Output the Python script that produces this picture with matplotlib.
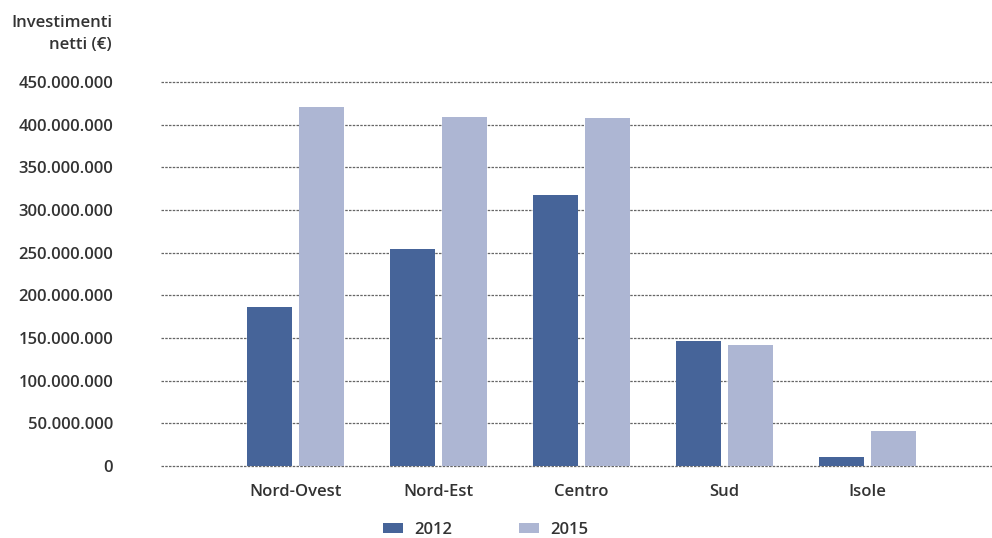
import numpy as np
import matplotlib
matplotlib.use("Agg")
import matplotlib.pyplot as plt
from matplotlib.ticker import FuncFormatter

# data
regioni = ["Nord-Ovest", "Nord-Est", "Centro", "Sud", "Isole"]
inv_2012 = [186e6, 254e6, 317.5e6, 146.8e6, 10.9e6]
inv_2015 = [420.3e6, 408.6e6, 407.5e6, 142e6, 41.4e6]
anni = ["2012", "2015"]
y_ticks = np.arange(0, 450e6 + 1, 50e6)

col_2012 = "#466499"
col_2015 = "#adb6d3"
txt = "#333333"

plt.rcParams["font.family"] = ["Open Sans", "DejaVu Sans"]
plt.rcParams["font.weight"] = "semibold"

fig = plt.figure(figsize=(9.92, 5.38), dpi=100)
ax = fig.add_axes([161 / 992, 68 / 538, 1 - 161 / 992, 400 / 538])

x = np.arange(len(regioni))
w = 0.315
ax.bar(x - 0.182, inv_2012, width=w, color=col_2012, label=anni[0], zorder=2)
ax.bar(x + 0.182, inv_2015, width=w, color=col_2015, label=anni[1], zorder=2)

ax.set_xlim(-0.94, 4.87)
ax.set_ylim(-4.7e6, 464e6)
ax.set_yticks(y_ticks)
ax.yaxis.set_major_formatter(FuncFormatter(lambda v, p: f"{int(v):,}".replace(",", ".")))
ax.set_xticks(x)
ax.set_xticklabels(regioni)

ax.grid(axis="y", linestyle=(0, (2, 1)), linewidth=0.9, color="#666666", zorder=1)
ax.set_axisbelow(True)
for s in ax.spines.values():
    s.set_visible(False)
ax.tick_params(axis="both", length=0, labelsize=12, labelcolor=txt)
ax.tick_params(axis="y", pad=34.5)
ax.tick_params(axis="x", pad=10)

fig.text(112 / 992, 1 - 34 / 538, "Investimenti\nnetti (€)", ha="right", va="center",
         fontsize=12, color=txt, linespacing=1.45)

leg = fig.legend(loc="center", bbox_to_anchor=(485.5 / 992, 8 / 538), ncol=2, frameon=False,
                 fontsize=12, handlelength=1.2, handleheight=0.48, handletextpad=0.66,
                 columnspacing=4.0, labelcolor=txt)

fig.savefig("out.png", dpi=100)
